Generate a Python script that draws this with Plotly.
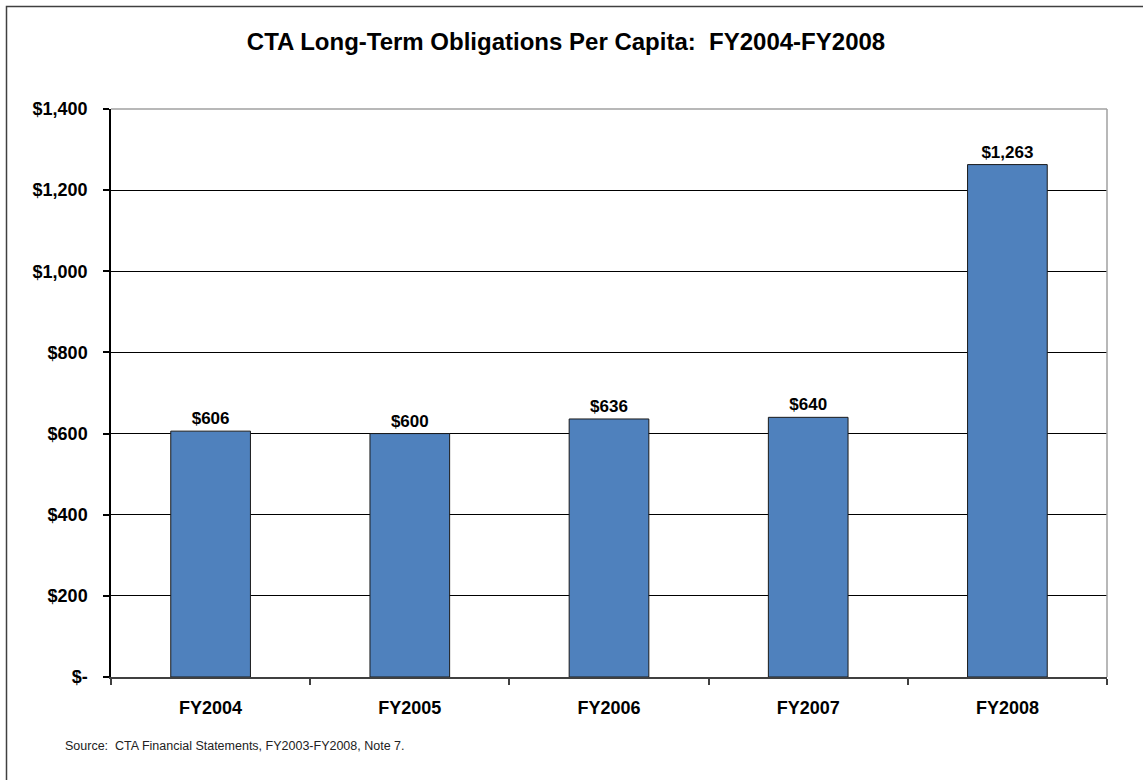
import plotly.graph_objects as go

categories = ["FY2004", "FY2005", "FY2006", "FY2007", "FY2008"]
values = [606, 600, 636, 640, 1263]
y_tick_vals = [0, 200, 400, 600, 800, 1000, 1200, 1400]
y_tick_text = ["$-", "$200", "$400", "$600", "$800", "$1,000", "$1,200", "$1,400"]
title_text = "CTA Long-Term Obligations Per Capita:  FY2004-FY2008"
source_text = "Source:  CTA Financial Statements, FY2003-FY2008, Note 7."

W, H = 1143, 780
L, T = 111, 109
R = W - 1107
B = H - 677
pw, ph = W - L - R, H - T - B

FONT = "Liberation Sans, Arial"

fig = go.Figure()
fig.add_trace(go.Bar(
    x=categories, y=values,
    width=0.4,
    marker=dict(color="#4F81BD", line=dict(color="#1a1a1a", width=1)),
    text=["<b>$" + format(v, ",") + "</b>" for v in values],
    textposition="outside",
    constraintext="none",
    textfont=dict(family=FONT, size=17, color="black"),
    cliponaxis=False,
))

def px_x(p):
    return (p - L) / pw

def px_y(p):
    return 1 - (p - T) / ph

shapes = [
    dict(type="rect", xref="paper", yref="paper",
         x0=px_x(6.5), x1=px_x(1170), y0=px_y(820), y1=px_y(6.5),
         line=dict(color="#404040", width=1.5), fillcolor="rgba(0,0,0,0)", layer="below"),
    dict(type="line", xref="paper", yref="paper", x0=0, x1=1, y0=1, y1=1,
         line=dict(color="#A0A0A0", width=1.5)),
    dict(type="line", xref="paper", yref="paper", x0=1, x1=1, y0=0, y1=1,
         line=dict(color="#A0A0A0", width=1.5)),
]

fig.update_layout(
    width=W, height=H,
    margin=dict(l=L, r=R, t=T, b=B),
    paper_bgcolor="white", plot_bgcolor="white",
    showlegend=False,
    font=dict(family=FONT, color="black"),
    title=dict(text="<b>" + title_text + "</b>", x=566 / W, xref="container", xanchor="center",
               y=1 - 42 / H, yref="container", yanchor="middle",
               font=dict(size=24, color="black")),
    xaxis=dict(
        type="category", tickson="boundaries",
        showline=True, linecolor="#404040", linewidth=1.5,
        ticks="outside", ticklen=6, tickcolor="#404040", tickwidth=1.5,
        showgrid=False, tickfont=dict(size=18, family=FONT),
        tickprefix="<b>", ticksuffix="</b>",
        ticklabelstandoff=14,
    ),
    yaxis=dict(
        range=[0, 1400], tickvals=y_tick_vals,
        ticktext=["<b>" + t + "</b>" for t in y_tick_text],
        showline=True, linecolor="black", linewidth=1.5,
        ticks="outside", ticklen=6, tickcolor="black", tickwidth=1.5,
        showgrid=True, gridcolor="black", gridwidth=1,
        zeroline=False, tickfont=dict(size=18, family=FONT),
        ticklabelstandoff=12,
    ),
    bargap=0.6,
    shapes=shapes,
    annotations=[dict(
        text=source_text, xref="paper", yref="paper",
        x=px_x(63), y=px_y(746), xanchor="left", yanchor="middle",
        showarrow=False, font=dict(size=12.5, color="#222222", family=FONT),
    )],
)

fig.write_html(
    "out.html",
    config={"displayModeBar": False},
    post_script="document.body.style.margin='0';document.body.style.overflow='hidden';",
)
